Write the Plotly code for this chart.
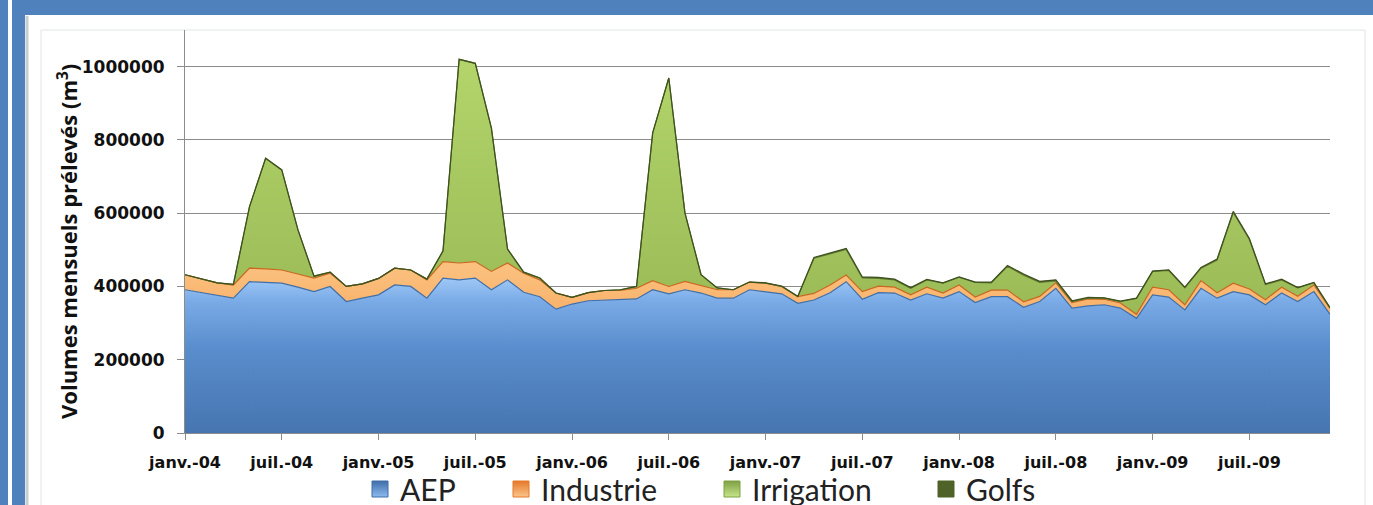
import plotly.graph_objects as go

# ---------------- data (values in m3) ----------------
month_names = ["janv.", "févr.", "mars", "avr.", "mai", "juin",
               "juil.", "août", "sept.", "oct.", "nov.", "déc."]
years = ["04", "05", "06", "07", "08", "09"]
months = [f"{m}-{y}" for y in years for m in month_names]

aep = [391000, 383000, 375000, 368000, 413000, 412000, 409000, 398000, 386000, 400000, 359000, 368000,
       377000, 404000, 400000, 368000, 423000, 418000, 423000, 391000, 418000, 384000, 372000, 338000,
       352000, 361000, 363000, 363000, 366000, 391000, 380000, 391000, 382000, 368000, 368000, 391000,
       386000, 380000, 354000, 363000, 383000, 413000, 365000, 383000, 382000, 363000, 380000, 368000,
       386000, 356000, 372000, 372000, 343000, 359000, 395000, 341000, 347000, 350000, 341000, 313000,
       377000, 371000, 336000, 395000, 368000, 386000, 377000, 350000, 382000, 359000, 386000, 324000]

industrie = [41000, 37000, 35000, 36000, 37000, 36000, 36000, 36000, 37000, 36000, 41000, 39000,
             45000, 46000, 45000, 50000, 45000, 46000, 45000, 50000, 46000, 52000, 46000, 44000,
             18000, 22000, 26000, 26000, 29000, 25000, 20000, 23000, 20000, 23000, 23000, 21000,
             23000, 20000, 18000, 18000, 21000, 18000, 21000, 18000, 16000, 14000, 18000, 14000,
             18000, 15000, 18000, 18000, 15000, 14000, 15000, 15000, 19000, 15000, 14000, 11000,
             21000, 20000, 14000, 21000, 15000, 23000, 16000, 14000, 16000, 14000, 18000, 17000]

irrigation = [0, 0, 0, 2000, 168000, 302000, 273000, 121000, 5000, 3000, 0, 0,
              0, 0, 0, 2000, 29000, 556000, 541000, 391000, 38000, 3000, 5000, 0,
              0, 0, 0, 2000, 5000, 403000, 569000, 187000, 30000, 5000, 0, 0,
              0, 0, 0, 96000, 85000, 70000, 37000, 21000, 20000, 18000, 20000, 27000,
              21000, 40000, 20000, 65000, 73000, 38000, 5000, 3000, 2000, 3000, 4000, 43000,
              43000, 53000, 46000, 34000, 89000, 193000, 135000, 41000, 20000, 23000, 6000, 0]

golfs = [0, 0, 0, 0, 0, 0, 0, 0, 0, 0, 0, 0,
         0, 0, 0, 0, 0, 0, 0, 0, 0, 0, 0, 0,
         0, 0, 0, 0, 0, 0, 0, 0, 0, 0, 0, 0,
         1000, 1000, 1000, 2000, 2000, 3000, 3000, 3000, 2000, 2000, 1000, 1000,
         1000, 1000, 2000, 2000, 3000, 3000, 3000, 2000, 2000, 1000, 1000, 1000,
         1000, 1000, 2000, 2000, 3000, 3000, 3000, 2000, 2000, 1000, 1000, 1000]

series_names = ["AEP", "Industrie", "Irrigation", "Golfs"]
y_ticks = [0, 200000, 400000, 600000, 800000, 1000000]

# ---------------- styling ----------------
W, H = 1373, 505
L, R, T, B = 185, 1330, 30, 433          # plot area in pixels


def px(xpix):
    return (xpix - L) / (R - L)


def py(ypix):
    return (B - ypix) / (B - T)


fills = {
    "AEP": dict(line="#3F6FA8",
                grad=[[0, "#4675B0"], [0.55, "#5A8DCD"], [0.85, "#79AAE6"], [1, "#9CC6F5"]],
                stop=420000),
    "Industrie": dict(line="#C9681F",
                      grad=[[0, "#F08A35"], [1, "#FBC07E"]], stop=450000),
    "Irrigation": dict(line="#5F7A2E",
                       grad=[[0, "#8EAE4D"], [1, "#B2D46A"]], stop=1000000),
    "Golfs": dict(line="#3F5020",
                  grad=[[0, "#4F6228"], [1, "#4F6228"]], stop=1000000),
}
legend_colors = {"AEP": ("#3E6DA8", "#8DBBF0"), "Industrie": ("#E5792A", "#FBC58A"),
                 "Irrigation": ("#7FA043", "#C5E58A"), "Golfs": ("#4F6228", "#4F6228")}
legend_ids = ["legend", "legend2", "legend3", "legend4"]
legend_x_px = [360, 501, 712, 926]

fig = go.Figure()
x = list(range(len(months)))
for name, vals in zip(series_names, [aep, industrie, irrigation, golfs]):
    st = fills[name]
    fig.add_trace(go.Scatter(
        x=x, y=vals, name=name, stackgroup="one", mode="lines",
        line=dict(color=st["line"], width=1.2),
        fillgradient=dict(type="vertical", colorscale=st["grad"], start=0, stop=st["stop"]),
        showlegend=False, hoverinfo="skip"))

for name, lid in zip(series_names, legend_ids):
    c0, c1 = legend_colors[name]
    fig.add_trace(go.Scatter(
        x=[None], y=[None], name=name, mode="markers", legend=lid,
        marker=dict(symbol="square", size=18, color=c0,
                    gradient=dict(type="vertical", color=c1),
                    line=dict(color=c0, width=1)),
        showlegend=True))

shapes = [
    # white chart area on the blue frame
    dict(type="rect", xref="paper", yref="paper", layer="below",
         x0=px(25), x1=px(1373), y0=py(15), y1=py(510),
         fillcolor="white", line=dict(width=0)),
    # soft shadow on left edge of chart area
    dict(type="line", xref="paper", yref="paper", layer="below",
         x0=px(27), x1=px(27), y0=py(16), y1=py(510),
         line=dict(color="#C8CDD4", width=3)),
    # thin white stripe in left frame
    dict(type="rect", xref="paper", yref="paper", layer="below",
         x0=px(8), x1=px(12), y0=py(0), y1=py(510),
         fillcolor="white", line=dict(width=0)),
    # inner panel outline
    dict(type="rect", xref="paper", yref="paper", layer="below",
         x0=px(41), x1=px(1365), y0=py(30), y1=py(520),
         fillcolor="rgba(0,0,0,0)", line=dict(color="#E2E4E8", width=1)),
]

legend_common = dict(orientation="h", xanchor="left", y=py(489), yanchor="middle",
                     font=dict(family="Lato", size=30, color="#222"),
                     bgcolor="rgba(0,0,0,0)", itemsizing="trace")
legends = {lid: dict(legend_common, x=px(lx)) for lid, lx in zip(legend_ids, legend_x_px)}

fig.update_layout(
    width=W, height=H,
    margin=dict(l=L, r=W - R, t=T, b=H - B, autoexpand=False),
    paper_bgcolor="#4F81BD", plot_bgcolor="white",
    shapes=shapes,
    showlegend=True,
    **legends,
    annotations=[dict(text="Volumes mensuels prélevés (m<sup>3</sup>)", textangle=-90,
                      xref="paper", yref="paper", x=px(67), y=py(242),
                      showarrow=False, xanchor="center", yanchor="middle",
                      font=dict(family="Open Sans", size=22, color="#111", weight="bold"))],
)

fig.update_xaxes(
    type="linear", range=[0, len(months) - 1],
    tickmode="array", tickvals=x[::6], ticktext=months[::6],
    showgrid=False, zeroline=False,
    showline=True, linecolor="#8C8C8C", linewidth=1,
    ticks="outside", ticklen=6, tickcolor="#8C8C8C",
    ticklabelstandoff=9,
    tickfont=dict(family="DejaVu Sans", size=16, color="#111", weight="bold"),
)
fig.update_yaxes(
    range=[0, 1100000], tickvals=y_ticks, tickformat="d",
    showgrid=True, gridcolor="#8C8C8C", gridwidth=1, zeroline=False,
    showline=True, linecolor="#8C8C8C", linewidth=1,
    ticks="outside", ticklen=7, tickcolor="#8C8C8C",
    ticklabelstandoff=9,
    tickfont=dict(family="DejaVu Sans", size=17, color="#111", weight="bold"),
)

fig.write_html("out.html", config={"displayModeBar": False},
               post_script="document.body.style.margin='0px';")
